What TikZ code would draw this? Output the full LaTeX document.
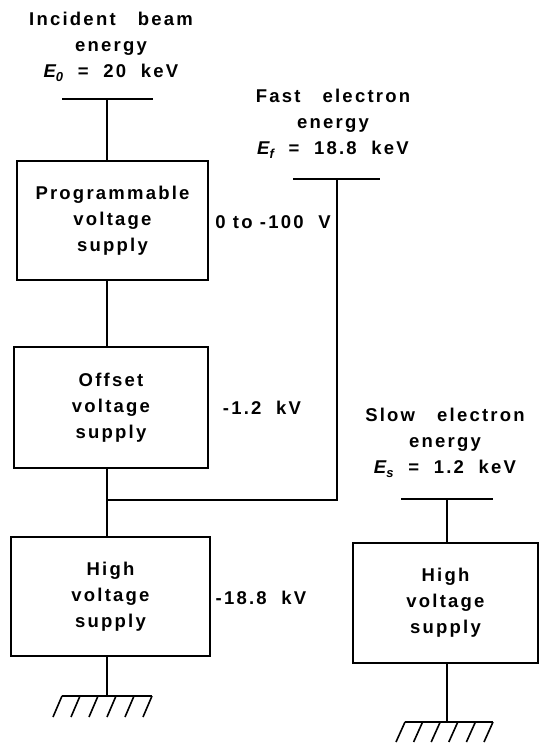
\documentclass[tikz,border=0pt]{standalone}
\usepackage{fontspec}
\newfontfamily\lblfont{Liberation Sans Bold}[LetterSpace=12]
\newfontfamily\lblitfont{Liberation Sans Bold Italic}[LetterSpace=12]
\newcommand\lbltxt{\lblfont\fontsize{18.5}{25.8}\selectfont}
\newcommand\subtxt[1]{\raisebox{-0.45ex}{\lblitfont\fontsize{13}{13}\selectfont #1}}
\newcommand\Ev[1]{{\lblitfont E}\subtxt{#1}}
\begin{document}
\begin{tikzpicture}[x=1pt,y=-1pt,line width=1.6pt,
  supplybox/.style={draw,line width=1.6pt,inner sep=0pt,align=center,font=\lbltxt},
  lbl/.style={align=center,font=\lbltxt,inner sep=0pt},
  wire/.style={line width=1.6pt},
  hatch/.style={line width=1.6pt}]
\useasboundingbox (0,0) rectangle (540,743);

% boxes
\node[supplybox,minimum width=191pt,minimum height=119pt] (b1) at (112.5,220.5)
  {Programmable\\voltage\\supply};
\node[supplybox,minimum width=194pt,minimum height=121pt] (b2) at (111,407.5)
  {Offset\\voltage\\supply};
\node[supplybox,minimum width=199pt,minimum height=119pt] (b3) at (110.5,596.5)
  {High\\voltage\\supply};
\node[supplybox,minimum width=185pt,minimum height=120pt] (b4) at (445.5,603)
  {High\\voltage\\supply};

% energy labels
\node[lbl] (tIn) at (111,47) {Incident\ \ \ beam\\energy\\\Ev{0}\ \ =\ \ 20\ \ keV};
\node[lbl] (tFast) at (333,124) {Fast\ \ \ electron\\energy\\\Ev{f}\ \ =\ \ 18.8\ \ keV};
\node[lbl] (tSlow) at (445,443) {Slow\ \ \ electron\\energy\\\Ev{s}\ \ =\ \ 1.2\ \ keV};

% voltage labels
\node[lbl] (v1) at (273,222) {0\ to\ -100\ \ V};
\node[lbl] (v2) at (262,408) {-1.2\ \ kV};
\node[lbl] (v3) at (261,598) {-18.8\ \ kV};

% coordinates
\coordinate (t1) at (107,99);
\coordinate (t1a) at (62,99);
\coordinate (t1b) at (153,99);
\coordinate (f) at (337,179);
\coordinate (fa) at (293,179);
\coordinate (fb) at (380,179);
\coordinate (s) at (447,499);
\coordinate (sa) at (401,499);
\coordinate (sb) at (493,499);
\coordinate (j) at (107,500);
\coordinate (gL) at (107,696);
\coordinate (gR) at (447,722);

% bars
\draw[wire] (t1a) -- (t1b);
\draw[wire] (fa) -- (fb);
\draw[wire] (sa) -- (sb);

% wires
\draw[wire] (t1) -- (t1 |- b1.north);
\draw[wire] (t1 |- b1.south) -- (t1 |- b2.north);
\draw[wire] (t1 |- b2.south) -- (t1 |- b3.north);
\draw[wire] (j) -- (j -| f) -- (f);
\draw[wire] (gL |- b3.south) -- (gL);
\draw[wire] (s) -- (s |- b4.north);
\draw[wire] (s |- b4.south) -- (gR);

% grounds
\draw[wire] ([xshift=-45pt]gL) -- ([xshift=45pt]gL);
\foreach \i in {0,...,5}
  \draw[hatch] ([xshift={-45pt+18pt*\i}]gL) -- ([xshift={-54pt+18pt*\i},yshift=-21pt]gL);
\draw[wire] ([xshift=-42pt]gR) -- ([xshift=46pt]gR);
\foreach \i in {0,...,5}
  \draw[hatch] ([xshift={-42pt+17.6pt*\i}]gR) -- ([xshift={-51pt+17.6pt*\i},yshift=-20pt]gR);
\end{tikzpicture}
\end{document}
